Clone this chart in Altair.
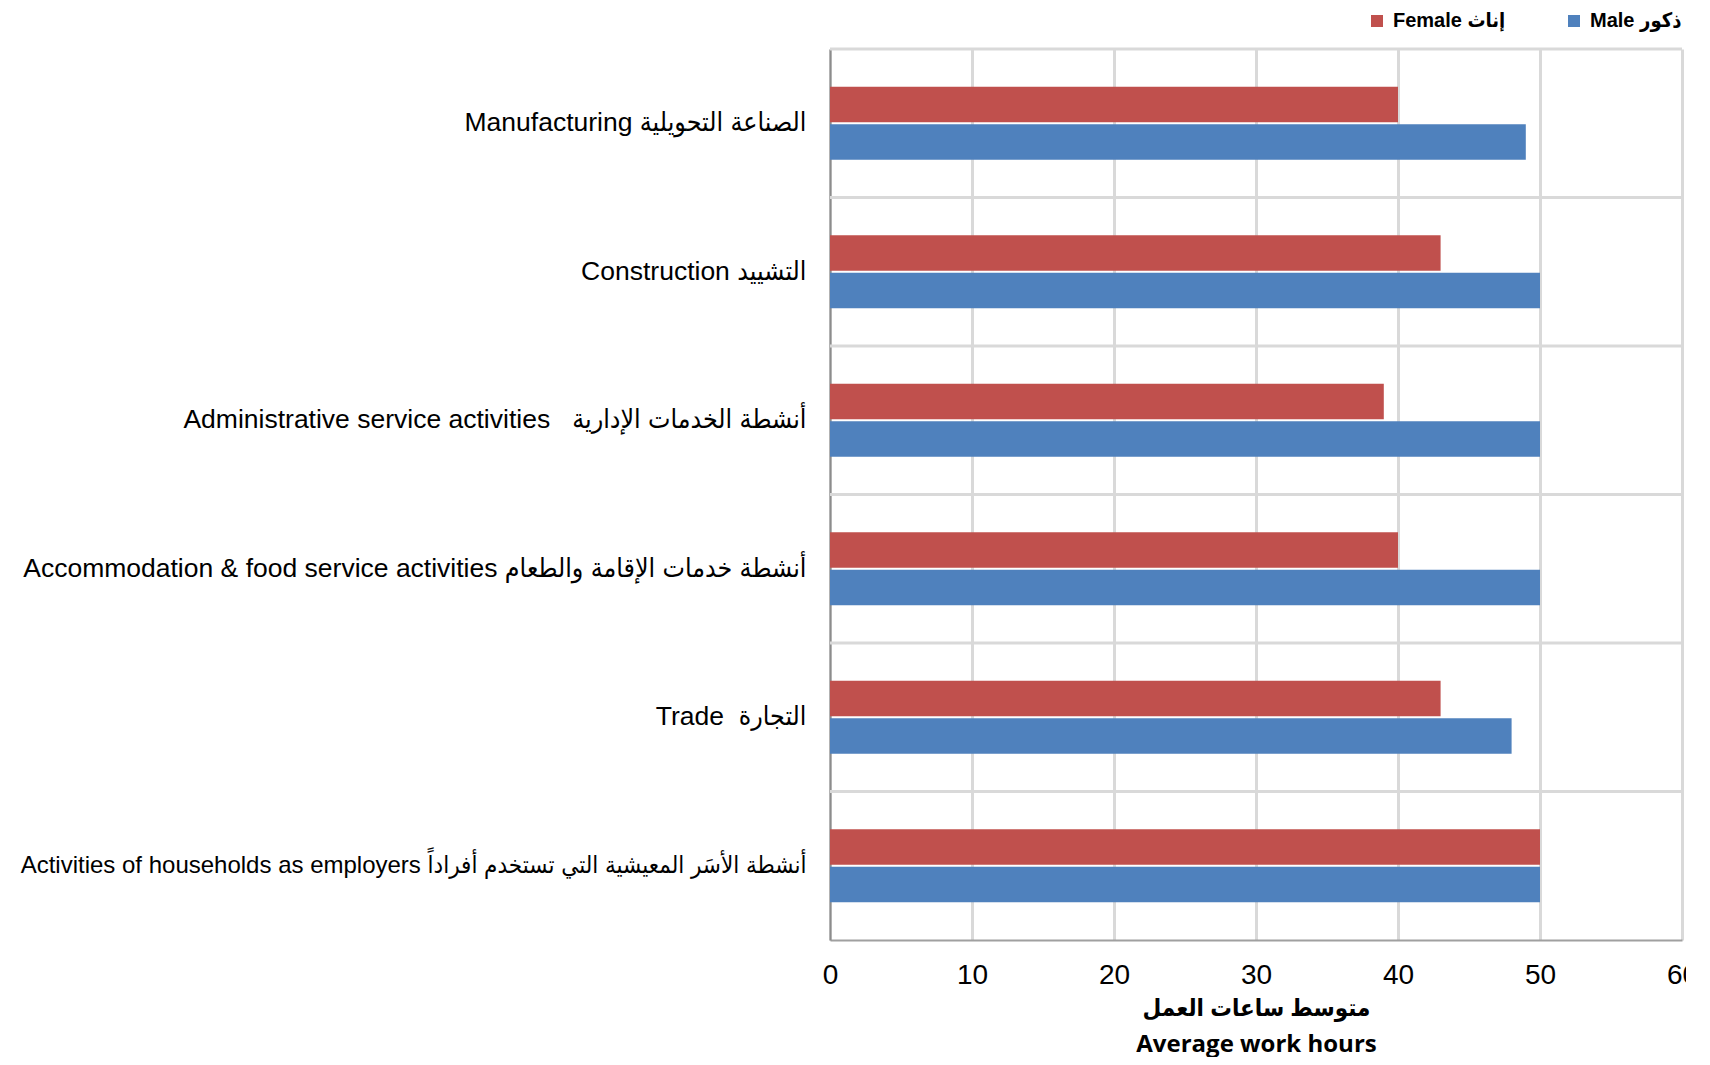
import altair as alt
import pandas as pd

categories = [
    "Manufacturing الصناعة التحويلية",
    "Construction التشييد",
    "Administrative service activities\u00a0\u00a0\u00a0أنشطة الخدمات الإدارية",
    "Accommodation & food service activities أنشطة خدمات الإقامة والطعام",
    "Trade\u00a0\u00a0التجارة",
    "Activities of households as employers أنشطة الأسَر المعيشية التي تستخدم أفراداً",
]
female = [40, 43, 39, 40, 43, 50]
male = [49, 50, 50, 50, 48, 50]
series = ["Female إناث", "Male ذكور"]
colors = ["#C0504D", "#4F81BD"]
x_ticks = [0, 10, 20, 30, 40, 50, 60]
grid_rows = [1, 2, 3, 4, 5, 6]
x_title = ["متوسط ساعات العمل", "Average work hours"]

rows = []
for c, f, m in zip(categories, female, male):
    rows.append({"category": c, "series": series[0], "value": f})
    rows.append({"category": c, "series": series[1], "value": m})
df = pd.DataFrame(rows)

LABEL_FONT = "Liberation Sans, DejaVu Sans Condensed, sans-serif"
TITLE_FONT = "Open Sans, DejaVu Sans Condensed, sans-serif"

bars = alt.Chart(df).mark_bar().encode(
    y=alt.Y(
        "category:N",
        sort=categories,
        scale=alt.Scale(paddingInner=0.51, paddingOuter=0.255),
        axis=alt.Axis(
            title=None, orient="left", ticks=False, grid=False,
            labelFont=LABEL_FONT,
            labelFontSize={
                "condition": {"test": "indexof(datum.label, 'households') >= 0", "value": 24},
                "value": 26.5,
            },
            labelColor="black",
            labelPadding=24, labelLimit=900,
            domainColor="#8c8c8c", domainWidth=2,
        ),
    ),
    yOffset=alt.YOffset("series:N", sort=series, scale=alt.Scale(paddingInner=0.05)),
    x=alt.X(
        "value:Q",
        scale=alt.Scale(domain=[0, 60], nice=False),
        axis=alt.Axis(
            values=x_ticks, title=x_title, grid=True, gridColor="#d9d9d9",
            gridWidth=3, ticks=False, domainColor="#a0a0a0", domainWidth=2,
            labelFont=LABEL_FONT, labelFontSize=28, labelColor="black",
            labelPadding=21, labelFlush=False,
            titleFont=TITLE_FONT, titleFontWeight="bold",
            titleFontSize=24, titleLineHeight=36, titlePadding=7,
            titleColor="black",
        ),
    ),
    color=alt.Color(
        "series:N",
        sort=series,
        scale=alt.Scale(domain=series, range=colors),
        legend=alt.Legend(
            title=None, orient="none", legendX=537, legendY=-38,
            direction="horizontal", symbolType="square", symbolSize=144,
            symbolStrokeWidth=0, labelFont=LABEL_FONT, labelFontWeight="bold",
            labelFontSize=20, labelColor="black", labelOffset=6,
            columnPadding=58, labelLimit=300,
        ),
    ),
)

rules = alt.Chart(pd.DataFrame({"row": grid_rows})).mark_rule(
    color="#d9d9d9", strokeWidth=3
).encode(
    y=alt.Y("row:Q", scale=alt.Scale(domain=[0, 6], nice=False), axis=None)
)

chart = (
    alt.layer(bars, rules)
    .resolve_scale(y="independent")
    .properties(
        width=852,
        height=891,
        autosize=alt.AutoSizeParams(type="none"),
        padding={"left": 822, "top": 41, "right": 4, "bottom": 117},
        background="white",
    )
    .configure_view(stroke=None)
)

chart.save("out.html", embed_options={"renderer": "svg", "actions": False})
